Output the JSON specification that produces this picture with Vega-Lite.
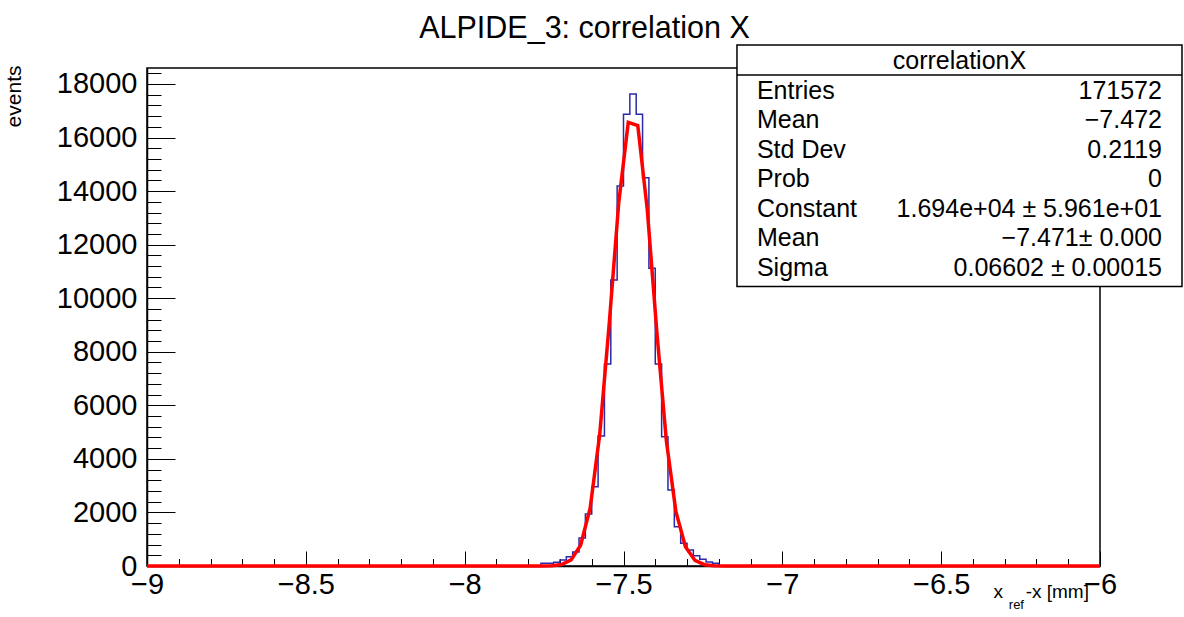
{
  "$schema": "https://vega.github.io/schema/vega-lite/v6.json",
  "width": 953,
  "height": 498,
  "autosize": "none",
  "padding": {"left": 147, "top": 68, "right": 84, "bottom": 51},
  "background": "white",
  "config": {
    "view": {"stroke": "#000000", "strokeWidth": 1.5},
    "font": "Liberation Sans",
    "text": {"font": "Liberation Sans", "color": "black"}
  },
  "title": {
    "text": "ALPIDE_3: correlation X",
    "font": "Liberation Sans",
    "fontSize": 30.5,
    "fontWeight": "normal",
    "color": "black",
    "anchor": "middle",
    "dx": -39,
    "offset": -24,
    "baseline": "alphabetic"
  },
  "datasets": {
    "hist": [
      {"x": -9.0, "n": 0},
      {"x": -7.76, "n": 100},
      {"x": -7.74, "n": 100},
      {"x": -7.72, "n": 140},
      {"x": -7.70, "n": 220},
      {"x": -7.68, "n": 350},
      {"x": -7.66, "n": 520},
      {"x": -7.64, "n": 1050},
      {"x": -7.62, "n": 1940},
      {"x": -7.60, "n": 2960},
      {"x": -7.58, "n": 4850},
      {"x": -7.56, "n": 7540},
      {"x": -7.54, "n": 10680},
      {"x": -7.52, "n": 14190},
      {"x": -7.50, "n": 16870},
      {"x": -7.48, "n": 17625},
      {"x": -7.46, "n": 16870},
      {"x": -7.44, "n": 14500},
      {"x": -7.42, "n": 11120},
      {"x": -7.40, "n": 7540},
      {"x": -7.38, "n": 4830},
      {"x": -7.36, "n": 2840},
      {"x": -7.34, "n": 1470},
      {"x": -7.32, "n": 850},
      {"x": -7.30, "n": 600},
      {"x": -7.28, "n": 380},
      {"x": -7.26, "n": 250},
      {"x": -7.24, "n": 150},
      {"x": -7.22, "n": 100},
      {"x": -7.20, "n": 0},
      {"x": -6.0, "n": 0}
    ],
    "fit": [
      {"x": -9.0, "f": 0},
      {"x": -7.755, "f": 1},
      {"x": -7.725, "f": 10},
      {"x": -7.695, "f": 54},
      {"x": -7.665, "f": 226},
      {"x": -7.635, "f": 775},
      {"x": -7.605, "f": 2160},
      {"x": -7.575, "f": 4899},
      {"x": -7.545, "f": 9039},
      {"x": -7.515, "f": 13566},
      {"x": -7.485, "f": 16564},
      {"x": -7.455, "f": 16450},
      {"x": -7.425, "f": 13289},
      {"x": -7.395, "f": 8733},
      {"x": -7.365, "f": 4669},
      {"x": -7.335, "f": 2029},
      {"x": -7.305, "f": 718},
      {"x": -7.275, "f": 207},
      {"x": -7.245, "f": 48},
      {"x": -7.215, "f": 9},
      {"x": -7.185, "f": 1},
      {"x": -6.0, "f": 0}
    ],
    "stats": [
      {"row": 1, "label": "Entries", "value": "171572"},
      {"row": 2, "label": "Mean", "value": "\u22127.472"},
      {"row": 3, "label": "Std Dev", "value": "0.2119"},
      {"row": 4, "label": "Prob", "value": "0"},
      {"row": 5, "label": "Constant", "value": "1.694e+04 \u00b1 5.961e+01"},
      {"row": 6, "label": "Mean", "value": "\u22127.471\u00b1 0.000"},
      {"row": 7, "label": "Sigma", "value": "0.06602 \u00b1 0.00015"}
    ],
    "header": [
      {"row": 0, "label": "correlationX"}
    ]
  },
  "layer": [
    {
      "layer": [
        {
          "data": {"name": "hist"},
          "mark": {"type": "line", "interpolate": "step-after", "color": "#2a2aa8", "strokeWidth": 1.5},
          "encoding": {
            "x": {
              "field": "x",
              "type": "quantitative",
              "scale": {"domain": [-9, -6], "nice": false, "zero": false},
              "axis": {
                "title": null,
                "grid": false,
                "tickCount": 1000,
                "values": [-9,-8.9,-8.8,-8.7,-8.6,-8.5,-8.4,-8.3,-8.2,-8.1,-8,-7.9,-7.8,-7.7,-7.6,-7.5,-7.4,-7.3,-7.2,-7.1,-7,-6.9,-6.8,-6.7,-6.6,-6.5,-6.4,-6.3,-6.2,-6.1,-6],
                "labelExpr": "abs(datum.value*2 - round(datum.value*2)) < 0.000001 ? format(datum.value, '~g') : ''",
                "tickSize": {"condition": {"test": "abs(datum.value*2 - round(datum.value*2)) < 0.000001", "value": -15}, "value": -7.5},
                "labelPadding": 19,
                "labelFont": "Liberation Sans",
                "labelFontSize": 29,
                "labelColor": "black",
                "labelFlush": false,
                "labelOverlap": false,
                "tickColor": "black",
                "tickWidth": 1,
                "domainColor": "black",
                "domainWidth": 1.5
              }
            },
            "y": {
              "field": "n",
              "type": "quantitative",
              "scale": {"domain": [0, 18596], "nice": false, "zero": true},
              "axis": {
                "title": "events",
                "titleFont": "Liberation Sans",
                "titleFontSize": 21,
                "titleFontWeight": "normal",
                "titleColor": "black",
                "titleAngle": -90,
                "titleX": -123,
                "titleY": -3,
                "titleAlign": "right",
                "titleBaseline": "bottom",
                "grid": false,
                "tickCount": 1000,
                "values": [0,400,800,1200,1600,2000,2400,2800,3200,3600,4000,4400,4800,5200,5600,6000,6400,6800,7200,7600,8000,8400,8800,9200,9600,10000,10400,10800,11200,11600,12000,12400,12800,13200,13600,14000,14400,14800,15200,15600,16000,16400,16800,17200,17600,18000,18400],
                "labelExpr": "datum.value % 2000 === 0 ? format(datum.value, 'd') : ''",
                "tickSize": {"condition": {"test": "datum.value % 2000 === 0", "value": -28}, "value": -14},
                "labelPadding": 38,
                "labelFont": "Liberation Sans",
                "labelFontSize": 29,
                "labelColor": "black",
                "labelOverlap": false,
                "labelFlush": false,
                "tickColor": "black",
                "tickWidth": 1,
                "domainColor": "black",
                "domainWidth": 1.5
              }
            }
          }
        },
        {
          "data": {"name": "fit"},
          "mark": {"type": "line", "interpolate": "linear", "color": "#ff0000", "strokeWidth": 3.5},
          "encoding": {
            "x": {"field": "x", "type": "quantitative"},
            "y": {"field": "f", "type": "quantitative"}
          }
        },
        {
          "data": {"values": [{}]},
          "mark": {"type": "rect", "fill": "white", "stroke": "black", "strokeWidth": 1.5},
          "encoding": {
            "x": {"datum": -7.1428, "type": "quantitative"},
            "x2": {"datum": -5.7419},
            "y": {"datum": 19455, "type": "quantitative"},
            "y2": {"datum": 10437}
          }
        },
        {
          "data": {"values": [{}]},
          "mark": {"type": "rule", "stroke": "black", "strokeWidth": 1.5},
          "encoding": {
            "x": {"datum": -7.1428, "type": "quantitative"},
            "x2": {"datum": -5.7419},
            "y": {"datum": 18334, "type": "quantitative"}
          }
        },
        {
          "data": {"values": [{"t": "x"}]},
          "mark": {"type": "text", "align": "right", "baseline": "alphabetic", "fontSize": 19, "font": "Liberation Sans", "color": "black"},
          "encoding": {
            "x": {"datum": -6.3055, "type": "quantitative"},
            "y": {"datum": -1195, "type": "quantitative"},
            "text": {"field": "t"}
          }
        },
        {
          "data": {"values": [{"t": "ref"}]},
          "mark": {"type": "text", "align": "right", "baseline": "alphabetic", "fontSize": 13, "font": "Liberation Sans", "color": "black"},
          "encoding": {
            "x": {"datum": -6.2393, "type": "quantitative"},
            "y": {"datum": -1606, "type": "quantitative"},
            "text": {"field": "t"}
          }
        },
        {
          "data": {"values": [{"t": "-x [mm]"}]},
          "mark": {"type": "text", "align": "right", "baseline": "alphabetic", "fontSize": 19, "font": "Liberation Sans", "color": "black"},
          "encoding": {
            "x": {"datum": -6.0347, "type": "quantitative"},
            "y": {"datum": -1195, "type": "quantitative"},
            "text": {"field": "t"}
          }
        }
      ]
    },
    {
      "layer": [
        {
          "data": {"name": "header"},
          "mark": {"type": "text", "align": "center", "baseline": "middle", "fontSize": 25, "font": "Liberation Sans", "color": "black"},
          "encoding": {
            "x": {"datum": -6.4424, "type": "quantitative"},
            "y": {"field": "row", "type": "ordinal", "axis": null, "scale": {"type": "point", "domain": [0,1,2,3,4,5,6,7], "range": [-7, 200], "padding": 0}},
            "text": {"field": "label"}
          }
        },
        {
          "data": {"name": "stats"},
          "mark": {"type": "text", "align": "left", "baseline": "middle", "fontSize": 25, "font": "Liberation Sans", "color": "black"},
          "encoding": {
            "x": {"datum": -7.08, "type": "quantitative"},
            "y": {"field": "row", "type": "ordinal", "axis": null},
            "text": {"field": "label"}
          }
        },
        {
          "data": {"name": "stats"},
          "mark": {"type": "text", "align": "right", "baseline": "middle", "fontSize": 25, "font": "Liberation Sans", "color": "black"},
          "encoding": {
            "x": {"datum": -5.805, "type": "quantitative"},
            "y": {"field": "row", "type": "ordinal", "axis": null},
            "text": {"field": "value"}
          }
        }
      ]
    }
  ],
  "resolve": {"scale": {"y": "independent"}}
}
